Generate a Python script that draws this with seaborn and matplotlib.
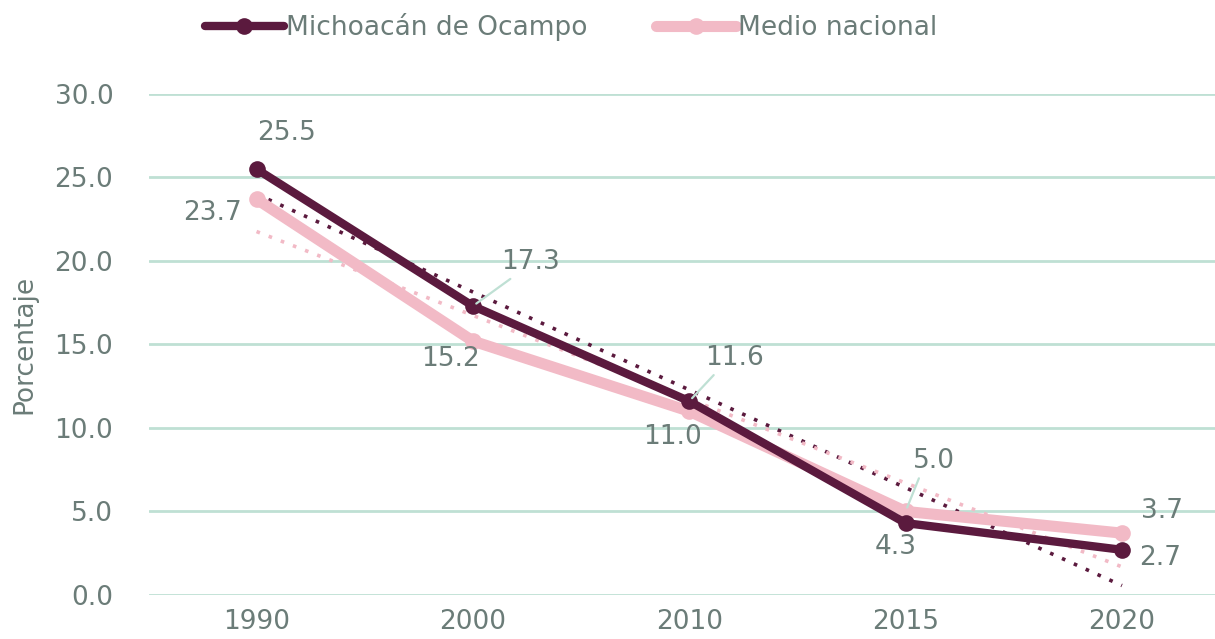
import matplotlib
matplotlib.use("Agg")
import matplotlib.pyplot as plt
import seaborn as sns
import pandas as pd
import numpy as np

years = ["1990", "2000", "2010", "2015", "2020"]
michoacan = [25.5, 17.3, 11.6, 4.3, 2.7]
nacional = [23.7, 15.2, 11.0, 5.0, 3.7]
series_names = ["Michoacán de Ocampo", "Medio nacional"]

# label offsets in pixels (dx, dy) and whether a leader line is drawn
mich_offsets = [(30, 36, False), (58, 44, True), (45, 43, True), (-10, -24, False), (38, -8, False)]
nac_offsets = [(-44, -14, False), (-22, -18, False), (-17, -26, False), (28, 50, True), (40, 22, False)]

colors = {"Michoacán de Ocampo": "#5b1a3e", "Medio nacional": "#f2bac6"}
text_color = "#6b7c78"
grid_color = "#bfe0d4"

df = pd.DataFrame({
    "idx": list(range(len(years))) * 2,
    "valor": michoacan + nacional,
    "serie": [series_names[0]] * len(years) + [series_names[1]] * len(years),
})

sns.set_style("white")
plt.rcParams["font.family"] = ["DejaVu Sans"]

fig = plt.figure(figsize=(12.15, 6.39), dpi=100)
ax = fig.add_axes([0.123, 0.069, 0.877, 0.784])

# trend lines
for name, vals in [(series_names[0], michoacan), (series_names[1], nacional)]:
    sns.regplot(x=list(range(len(years))), y=vals, ax=ax, scatter=False, ci=None,
                truncate=True, line_kws=dict(color=colors[name], lw=2.6, ls=(0, (1, 2.6)),
                                             dash_capstyle="butt", zorder=3))

# pink drawn first so maroon sits on top
sns.lineplot(data=df[df.serie == series_names[1]], x="idx", y="valor", color=colors[series_names[1]],
             lw=8, marker="o", markersize=12, markeredgewidth=0, ax=ax, zorder=4,
             label=series_names[1], clip_on=False)
sns.lineplot(data=df[df.serie == series_names[0]], x="idx", y="valor", color=colors[series_names[0]],
             lw=6, marker="o", markersize=12, markeredgewidth=0, ax=ax, zorder=5,
             label=series_names[0], clip_on=False)

def add_labels(vals, offsets):
    for i, (v, (dx, dy, lead)) in enumerate(zip(vals, offsets)):
        ax.annotate(f"{v:.1f}", xy=(i, v), xytext=(dx, dy), textcoords="offset pixels",
                    ha="center", va="center", fontsize=19, color=text_color, zorder=6,
                    arrowprops=dict(arrowstyle="-", color=grid_color, lw=1.6, relpos=(0.15, -0.15),
                                    shrinkA=0, shrinkB=3) if lead else None)

add_labels(michoacan, mich_offsets)
add_labels(nacional, nac_offsets)

ax.set_ylim(0, 30)
ax.set_xlim(-0.495, 4.43)
ax.set_yticks(np.arange(0, 30.1, 5))
ax.set_yticklabels([f"{t:.1f}" for t in np.arange(0, 30.1, 5)])
ax.set_xticks(range(len(years)))
ax.set_xticklabels(years)
ax.tick_params(axis="both", labelsize=19, colors=text_color, length=0, pad=26)
ax.tick_params(axis="x", pad=10)
ax.grid(axis="y", color=grid_color, lw=2)
ax.set_axisbelow(True)
for s in ax.spines.values():
    s.set_visible(False)
ax.set_xlabel("")
ax.set_ylabel("Porcentaje", fontsize=19, color=text_color)
ax.yaxis.set_label_coords(-0.105, 0.5)

handles, labels = ax.get_legend_handles_labels()
order = [labels.index(series_names[0]), labels.index(series_names[1])]
leg = fig.legend([handles[i] for i in order], [labels[i] for i in order],
                 loc="center", bbox_to_anchor=(0.47, 0.957), ncol=2, frameon=False,
                 fontsize=19, handlelength=3.0, handletextpad=0.1, columnspacing=2.6)
for t in leg.get_texts():
    t.set_color(text_color)
if ax.get_legend():
    ax.get_legend().remove()

fig.savefig("out.png", dpi=100)
